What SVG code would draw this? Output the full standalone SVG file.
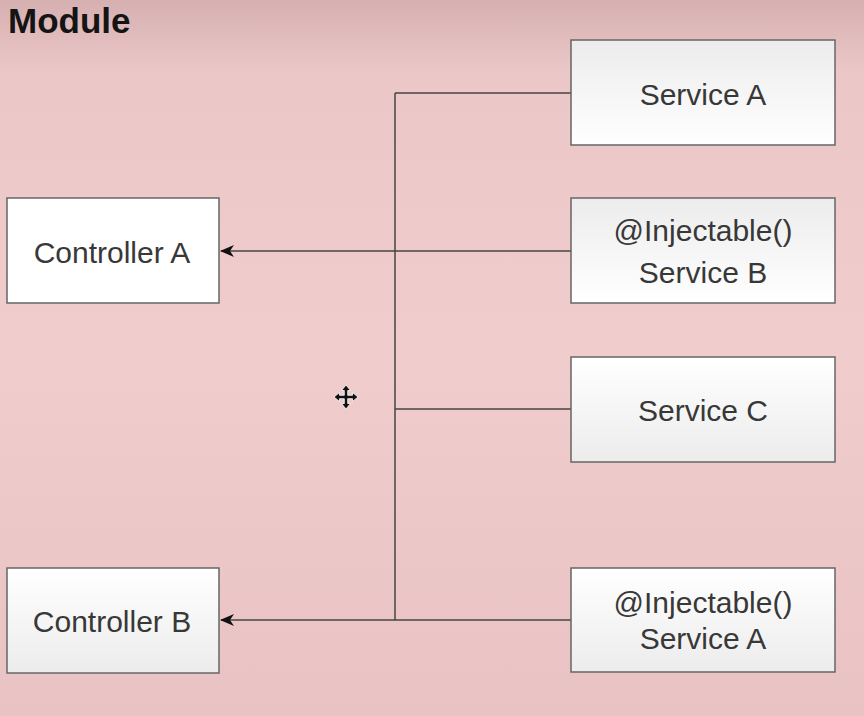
<svg xmlns="http://www.w3.org/2000/svg" width="864" height="716" viewBox="0 0 864 716">
<defs>
<linearGradient id="bg" x1="0" y1="0" x2="0" y2="1">
<stop offset="0" stop-color="#d6b0b0"/>
<stop offset="0.1" stop-color="#ecc7c7"/>
<stop offset="0.5" stop-color="#f1cccc"/>
<stop offset="1" stop-color="#e9c3c3"/>
</linearGradient>
<linearGradient id="boxg" x1="0" y1="0" x2="0" y2="1">
<stop offset="0" stop-color="#ececec"/>
<stop offset="1" stop-color="#ffffff"/>
</linearGradient>
<linearGradient id="boxg2" x1="0" y1="0" x2="0" y2="1">
<stop offset="0" stop-color="#ffffff"/>
<stop offset="1" stop-color="#ececec"/>
</linearGradient>
<marker id="arr" markerWidth="16" markerHeight="16" refX="13" refY="6" orient="auto" markerUnits="userSpaceOnUse">
<path d="M14,6 L0,0 L4,6 L0,12 Z" fill="#111"/>
</marker>
<style>
.box{stroke:#666;stroke-width:1.5}
.t{font-family:"Liberation Sans",Arial,sans-serif;font-size:30px;fill:#383838;text-anchor:middle}
.c{stroke:#444;stroke-width:1.5;fill:none}
</style>
</defs>
<rect width="864" height="716" fill="url(#bg)"/>
<text x="8" y="33" font-family="Liberation Sans,Arial,sans-serif" font-size="35" font-weight="bold" fill="#141414">Module</text>
<g id="connectors">
<path class="c" d="M395,93 L395,620"/>
<path class="c" d="M395,93 L571,93"/>
<path class="c" d="M395,409 L571,409"/>
<path class="c" d="M571,251 L221,251" marker-end="url(#arr)"/>
<path class="c" d="M571,620 L221,620" marker-end="url(#arr)"/>
</g>
<g id="serviceA">
<rect class="box" x="571" y="40" width="264" height="105" fill="url(#boxg)"/>
<text class="t" x="703" y="105">Service A</text>
</g>
<g id="serviceB">
<rect class="box" x="571" y="198" width="264" height="105" fill="url(#boxg)"/>
<text class="t" x="703" y="241">@Injectable()</text>
<text class="t" x="703" y="283">Service B</text>
</g>
<g id="serviceC">
<rect class="box" x="571" y="357" width="264" height="105" fill="url(#boxg2)"/>
<text class="t" x="703" y="421">Service C</text>
</g>
<g id="serviceA2">
<rect class="box" x="571" y="568" width="264" height="104" fill="url(#boxg2)"/>
<text class="t" x="703" y="613">@Injectable()</text>
<text class="t" x="703" y="649">Service A</text>
</g>
<g id="controllerA">
<rect class="box" x="7" y="198" width="212" height="105" fill="#ffffff"/>
<text class="t" x="112" y="263">Controller A</text>
</g>
<g id="controllerB">
<rect class="box" x="7" y="568" width="212" height="105" fill="url(#boxg2)"/>
<text class="t" x="112" y="632">Controller B</text>
</g>
<g id="cursor" fill="#111" stroke="#fff" stroke-width="0.8">
<path d="M346,385 L350.5,390.5 L347.7,390.5 L347.7,395.3 L352.5,395.3 L352.5,392.5 L358,397 L352.5,401.5 L352.5,398.7 L347.7,398.7 L347.7,403.5 L350.5,403.5 L346,409 L341.5,403.5 L344.3,403.5 L344.3,398.7 L339.5,398.7 L339.5,401.5 L334,397 L339.5,392.5 L339.5,395.3 L344.3,395.3 L344.3,390.5 L341.5,390.5 Z"/>
</g>
</svg>
